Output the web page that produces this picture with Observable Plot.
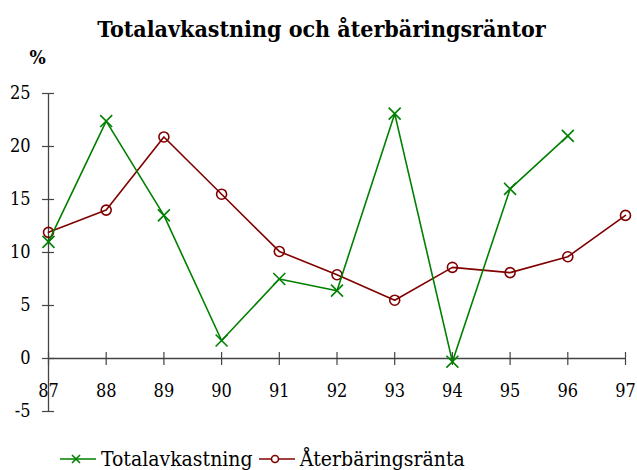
<!DOCTYPE html>
<html>
<head>
<meta charset="utf-8">
<script src="https://cdn.jsdelivr.net/npm/d3@7"></script>
<script src="https://cdn.jsdelivr.net/npm/@observablehq/plot@0.6"></script>
<style>
  body { margin: 0; background: #fff; font-family: "DejaVu Serif Condensed", "DejaVu Serif", serif; font-stretch: condensed; }
  #title { height: 44px; line-height: 58px; text-align: center; font-weight: bold; font-size: 23px; padding-left: 6px; }
  #legend { height: 30px; display: flex; align-items: center; padding-left: 60px; font-size: 21px; padding-top: 4px; }
  #legend span.item { display: inline-flex; align-items: center; margin-right: 6px; }
  svg { display: block; }
  #chart svg text { font-family: "DejaVu Serif Condensed", "DejaVu Serif", serif; font-stretch: condensed; }
</style>
</head>
<body>
<div id="title">Totalavkastning och återbäringsräntor</div>
<div id="chart"></div>
<div id="legend"></div>
<script>
const years = [87, 88, 89, 90, 91, 92, 93, 94, 95, 96, 97];
const totalavkastning = [11.0, 22.4, 13.5, 1.7, 7.5, 6.4, 23.1, -0.3, 16.0, 21.0];
const aterbaringsranta = [11.9, 14.0, 20.9, 15.5, 10.1, 7.9, 5.5, 8.6, 8.1, 9.6, 13.5];
const yTicks = [-5, 0, 5, 10, 15, 20, 25];
const seriesNames = ["Totalavkastning", "Återbäringsränta"];
const seriesColors = ["#008000", "#800000"];

const green = totalavkastning.map((v, i) => ({year: years[i], value: v}));
const red = aterbaringsranta.map((v, i) => ({year: years[i], value: v}));

const axisColor = "#444";
const font = "DejaVu Serif Condensed";
const chart = Plot.plot({
  width: 637,
  height: 396,
  marginTop: 49,
  marginBottom: 29,
  marginLeft: 48,
  marginRight: 12,
  style: {fontFamily: font, fontSize: "18px", background: "white", overflow: "visible"},
  x: {domain: [years[0], years[years.length - 1]], axis: null},
  y: {domain: [yTicks[0], yTicks[yTicks.length - 1]], axis: null},
  marks: [
    Plot.ruleX([years[0]], {y1: yTicks[0], y2: yTicks[yTicks.length - 1], stroke: axisColor, strokeWidth: 1.3}),
    Plot.ruleY(yTicks, {y: d => d, x1: years[0], x2: years[0], insetLeft: -6, insetRight: -6, stroke: axisColor, strokeWidth: 1.2}),
    Plot.text(yTicks, {y: d => d, x: years[0], text: d => String(d), textAnchor: "end", dx: -18, fill: "#000", fontFamily: font, fontSize: 18}),
    Plot.ruleY([0], {x1: years[0], x2: years[years.length - 1], stroke: axisColor, strokeWidth: 1.3}),
    Plot.ruleX(years, {x: d => d, y1: 0, y2: 0, insetTop: -6, insetBottom: -7, stroke: axisColor, strokeWidth: 1.2}),
    Plot.text(years, {x: d => d, y: 0, text: d => String(d), dy: 33, fill: "#000", fontFamily: font, fontSize: 18}),
    Plot.text(["%"], {frameAnchor: "top-left", text: d => d, dx: -11, dy: -43, textAnchor: "middle", fontWeight: "bold", fontSize: 19, fontFamily: font, fill: "#000"}),
    Plot.line(red, {x: "year", y: "value", stroke: seriesColors[1], strokeWidth: 1.6}),
    Plot.dot(red, {x: "year", y: "value", stroke: seriesColors[1], r: 5, strokeWidth: 1.6, fill: "none"}),
    Plot.line(green, {x: "year", y: "value", stroke: seriesColors[0], strokeWidth: 1.6}),
    Plot.dot(green, {x: "year", y: "value", stroke: seriesColors[0], symbol: "times", r: 5.5, strokeWidth: 1.6})
  ]
});
document.getElementById("chart").appendChild(chart);

const legend = document.getElementById("legend");
seriesNames.forEach((name, i) => {
  const item = document.createElement("span");
  item.className = "item";
  const sym = i === 0
    ? `<path d="M12,-4L20,4M12,4L20,-4" stroke="${seriesColors[i]}" stroke-width="1.6"/>`
    : `<circle cx="16" cy="0" r="3.5" fill="white" stroke="${seriesColors[i]}" stroke-width="1.6"/>`;
  item.innerHTML = `<svg width="38" height="12" viewBox="0 -6 38 12" style="display:inline-block;margin-right:3px"><line x1="0" x2="36" y1="0" y2="0" stroke="${seriesColors[i]}" stroke-width="1.6"/>${sym}</svg><span>${name}</span>`;
  legend.appendChild(item);
});
</script>
</body>
</html>
